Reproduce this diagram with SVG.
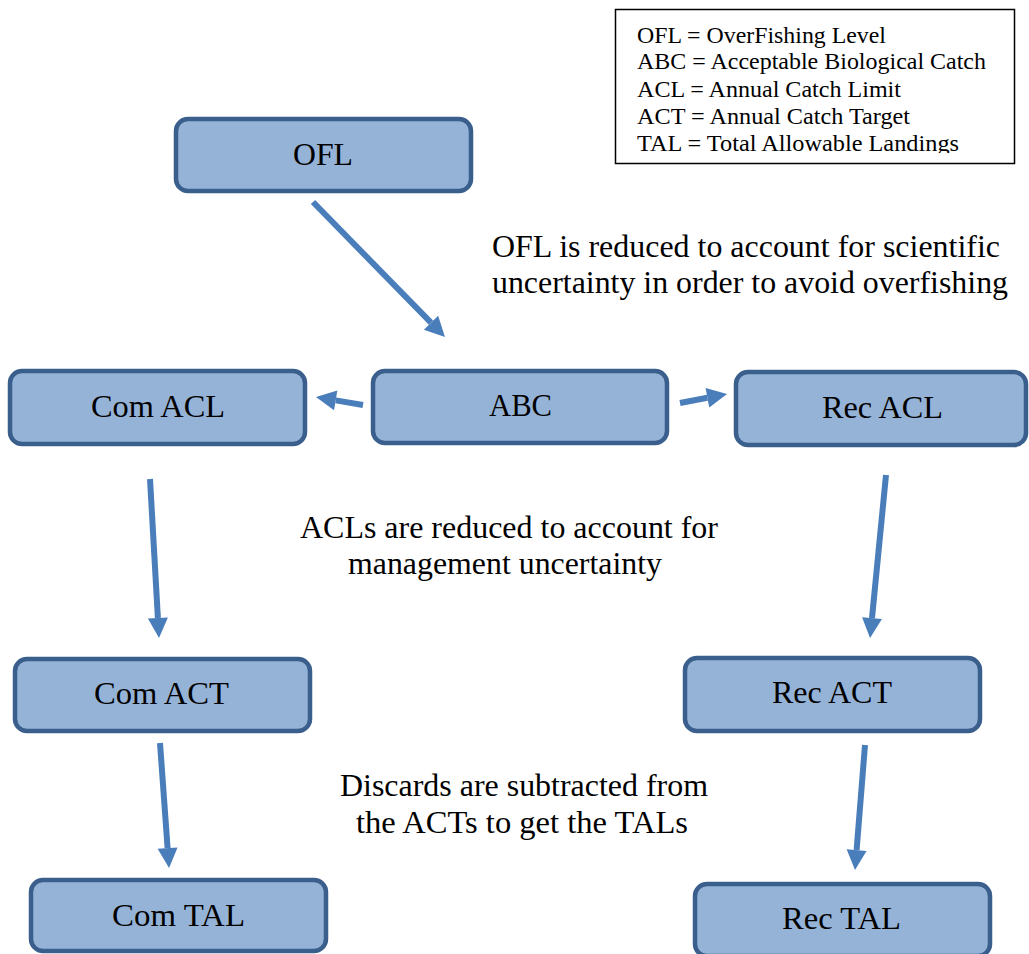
<svg xmlns="http://www.w3.org/2000/svg" width="1029" height="954" viewBox="0 0 1029 954">
<style>
.box{fill:#95b3d7;stroke:#3a5f8c;stroke-width:4.5}
.lbl{font-family:"Liberation Serif","Times New Roman",serif;font-size:32px;fill:#000}
.leg{font-family:"Liberation Serif","Times New Roman",serif;font-size:23.5px;fill:#000}
.arr{stroke:#4a7ebb;stroke-width:6;fill:none;marker-end:url(#ah)}
</style>
<defs>
<marker id="ah" markerUnits="userSpaceOnUse" markerWidth="20" markerHeight="20" refX="0" refY="10" orient="auto" overflow="visible">
<path d="M0,0 L20,10 L0,20 z" fill="#4a7ebb"/>
</marker>
<clipPath id="legclip"><rect x="616" y="10" width="398" height="143"/></clipPath>
</defs>
<rect width="1029" height="954" fill="#fff"/>
<g id="legend">
<rect x="615.5" y="9.5" width="399" height="154" fill="#fff" stroke="#000" stroke-width="1.5"/>
<g clip-path="url(#legclip)">
<text class="leg" x="637" y="43" textLength="249" lengthAdjust="spacingAndGlyphs">OFL = OverFishing Level</text>
<text class="leg" x="637" y="69" textLength="349" lengthAdjust="spacingAndGlyphs">ABC = Acceptable Biological Catch</text>
<text class="leg" x="637" y="97" textLength="264" lengthAdjust="spacingAndGlyphs">ACL = Annual Catch Limit</text>
<text class="leg" x="637" y="124" textLength="273" lengthAdjust="spacingAndGlyphs">ACT = Annual Catch Target</text>
<text class="leg" x="637" y="151" textLength="322" lengthAdjust="spacingAndGlyphs">TAL = Total Allowable Landings</text>
</g>
</g>
<g id="connectors">
<line class="arr" x1="313" y1="202" x2="431" y2="322.7"/>
<line class="arr" x1="363" y1="405" x2="335.7" y2="400.4"/>
<line class="arr" x1="680" y1="403" x2="707.4" y2="397.8"/>
<line class="arr" x1="150" y1="479" x2="157.9" y2="618"/>
<line class="arr" x1="886" y1="475" x2="872" y2="618.1"/>
<line class="arr" x1="160" y1="743" x2="167.6" y2="848.1"/>
<line class="arr" x1="865" y1="745" x2="856.6" y2="850.1"/>
</g>
<g id="node-ofl"><rect class="box" x="176" y="119" width="295" height="72" rx="12"/><text class="lbl" x="293" y="165" textLength="60" lengthAdjust="spacingAndGlyphs">OFL</text></g>
<g id="node-abc"><rect class="box" x="373" y="371" width="294" height="72" rx="12"/><text class="lbl" x="489" y="416" textLength="63" lengthAdjust="spacingAndGlyphs">ABC</text></g>
<g id="node-comacl"><rect class="box" x="10" y="371" width="295" height="73" rx="12"/><text class="lbl" x="91" y="417" textLength="134" lengthAdjust="spacingAndGlyphs">Com ACL</text></g>
<g id="node-recacl"><rect class="box" x="736" y="372" width="290" height="73" rx="12"/><text class="lbl" x="822" y="418" textLength="121" lengthAdjust="spacingAndGlyphs">Rec ACL</text></g>
<g id="node-comact"><rect class="box" x="15" y="659" width="295" height="72" rx="12"/><text class="lbl" x="94" y="704" textLength="135" lengthAdjust="spacingAndGlyphs">Com ACT</text></g>
<g id="node-recact"><rect class="box" x="685" y="658" width="295" height="73" rx="12"/><text class="lbl" x="772" y="703" textLength="120" lengthAdjust="spacingAndGlyphs">Rec ACT</text></g>
<g id="node-comtal"><rect class="box" x="31" y="880" width="295" height="71" rx="12"/><text class="lbl" x="112" y="926" textLength="133" lengthAdjust="spacingAndGlyphs">Com TAL</text></g>
<g id="node-rectal"><rect class="box" x="695" y="884" width="295" height="72" rx="12"/><text class="lbl" x="782" y="929" textLength="119" lengthAdjust="spacingAndGlyphs">Rec TAL</text></g>
<g id="notes">
<text class="lbl" x="492" y="257" textLength="508" lengthAdjust="spacingAndGlyphs">OFL is reduced to account for scientific</text>
<text class="lbl" x="492" y="293" textLength="516" lengthAdjust="spacingAndGlyphs">uncertainty in order to avoid overfishing</text>
<text class="lbl" x="300" y="538" textLength="418" lengthAdjust="spacingAndGlyphs">ACLs are reduced to account for</text>
<text class="lbl" x="348" y="574" textLength="314" lengthAdjust="spacingAndGlyphs">management uncertainty</text>
<text class="lbl" x="340" y="796" textLength="368" lengthAdjust="spacingAndGlyphs">Discards are subtracted from</text>
<text class="lbl" x="356" y="833" textLength="332" lengthAdjust="spacingAndGlyphs">the ACTs to get the TALs</text>
</g>
</svg>
